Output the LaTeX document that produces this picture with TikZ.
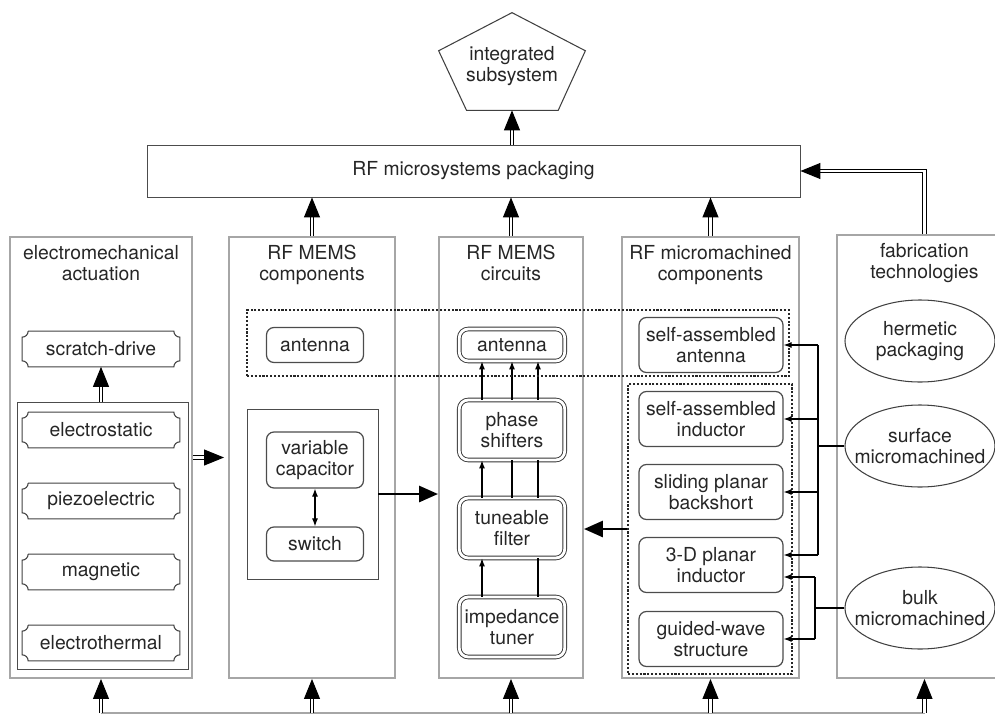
\documentclass[tikz,border=0pt]{standalone}
\usepackage{fontspec}
\setmainfont{TeX Gyre Heros}
\usetikzlibrary{arrows.meta,positioning,calc,fit,shapes.geometric}
\tikzset{
  column/.style={draw=gray!70, line width=1.1pt, inner sep=0pt},
  coltitle/.style={align=center, anchor=north, inner sep=0pt, text=black!85},
  framebox/.style={draw=black!70, line width=0.5pt, inner sep=0pt, align=center},
  groupbox/.style={draw=black!85, line width=0.6pt, dash pattern=on 1.2pt off 1pt, inner sep=0pt},
  actbox/.style={minimum width=31.4mm, minimum height=7mm, inner sep=0pt, text=black!85},
  compbox/.style={draw=black!70, rounded corners=1.5mm, line width=0.7pt, minimum width=19.4mm, align=center, inner sep=1pt, text=black!85},
  circbox/.style={draw=black!80, double, double distance=1.6pt, line width=0.5pt, rounded corners=1.8mm, minimum width=21.1mm, align=center, inner sep=1pt, text=black!85},
  microbox/.style={draw=black!70, rounded corners=1.5mm, line width=0.7pt, minimum width=28.8mm, minimum height=11mm, align=center, inner sep=1pt, text=black!85},
  fabell/.style={ellipse, draw=black!75, line width=0.6pt, minimum width=30mm, minimum height=16.4mm, inner xsep=-9pt, inner ysep=0pt, align=center, text=black!85},
  dblarrow/.style={double, double distance=1.2pt, line width=0.6pt, -{Triangle[length=4mm, width=3.2mm]}},
  heavyarrow/.style={line width=1.6pt, -{Triangle[length=3.8mm, width=3.2mm]}},
  thinarrow/.style={line width=0.6pt, -{Latex[length=1.6mm, width=1.2mm]}},
  twoway/.style={line width=0.6pt, {Latex[length=1.6mm, width=1.2mm]}-{Latex[length=1.6mm, width=1.2mm]}},
  wire/.style={line width=0.6pt},
  notchline/.style={draw=black!75, line width=0.6pt}
}
\newcommand{\nr}{1.2mm}
\newcommand{\notchbox}[1]{%
  \draw[notchline] ($(#1.north west)+(\nr,0)$) -- ($(#1.north east)+(-\nr,0)$)
    arc[start angle=180, end angle=270, radius=\nr] -- ($(#1.south east)+(0,\nr)$)
    arc[start angle=90, end angle=180, radius=\nr] -- ($(#1.south west)+(\nr,0)$)
    arc[start angle=0, end angle=90, radius=\nr] -- ($(#1.north west)+(0,-\nr)$)
    arc[start angle=270, end angle=360, radius=\nr];}

\begin{document}
\begin{tikzpicture}[x=0.2mm, y=-0.2mm, font=\fontsize{11}{12}\selectfont]
  \useasboundingbox (0,0) rectangle (995,715);

  % top: subsystem and packaging
  \node[inner sep=0pt, fit={(439,13)(585,110)}] (integ) {};
  \node[align=center, inner sep=0pt, text=black!85] (integ-t) at (512,66) {integrated\\subsystem};
  \draw[notchline] (integ.north) -- ($(integ.north east)!0.39!(integ.south east)$)
    -- ($(integ.south west)!0.815!(integ.south east)$) -- ($(integ.south west)!0.19!(integ.south east)$)
    -- ($(integ.north west)!0.39!(integ.south west)$) -- cycle;
  \node[framebox, fit={(147,145)(800,197)}] (pack) {};
  \node[text=black!85] (pack-t) at (pack.center) {RF microsystems packaging};
  \draw[dblarrow] (pack.north -| integ.south) -- (integ.south);

  % columns
  \node[column, fit={(10,237)(192,678)}] (act) {};
  \node[column, fit={(229,237)(395,678)}] (comp) {};
  \node[column, fit={(439,237)(583,678)}] (circ) {};
  \node[column, fit={(622,237)(799,678)}] (micro) {};
  \node[column, fit={(837,235)(1012,678)}] (fab) {};
  \node[coltitle] (act-t) at ([yshift=-1.8mm]act.north) {electromechanical\\actuation};
  \node[coltitle] (comp-t) at ([yshift=-1.8mm]comp.north) {RF MEMS\\components};
  \node[coltitle] (circ-t) at ([yshift=-1.8mm]circ.north) {RF MEMS\\circuits};
  \node[coltitle] (micro-t) at ([yshift=-1.8mm]micro.north) {RF micromachined\\components};
  \node[coltitle] (fab-t) at ([yshift=-1.8mm]fab.north) {fabrication\\technologies};

  % actuation
  \node[framebox, fit={(17,402)(188,669)}] (actin) {};
  \node[actbox] (scr) at (101,349) {scratch-drive};
  \node[actbox] (estat) at (101,430) {electrostatic};
  \node[actbox] (piezo) at (101,501) {piezoelectric};
  \node[actbox] (magn) at (101,572) {magnetic};
  \node[actbox] (ethm) at (101,643) {electrothermal};
  \foreach \n in {scr,estat,piezo,magn,ethm} {\notchbox{\n}}
  \draw[dblarrow] (scr.south |- actin.north) -- (scr.south);
  \draw[dblarrow, shorten >=0.8mm] (act.east) -- (comp.west);

  % components
  \node[compbox, minimum height=7mm] (cant) at (315,345) {antenna};
  \node[framebox, fit={(247,409)(378,579)}] (compin) {};
  \node[compbox, minimum height=11.2mm] (vcap) at (315,460) {variable\\capacitor};
  \node[compbox, minimum height=6.8mm] (sw) at (315,544) {switch};
  \draw[twoway] (vcap) -- (sw);
  \draw[heavyarrow] (compin.east) -- (compin.east -| circ.west);

  % circuits
  \node[circbox, minimum height=6.4mm] (cant2) at (512,345) {antenna};
  \node[circbox, minimum height=12mm] (phase) at (512,430) {phase\\shifters};
  \node[circbox, minimum height=12mm] (filt) at (512,528) {tuneable\\filter};
  \node[circbox, minimum height=12mm] (imp) at (512,627) {impedance\\tuner};
  \foreach \dx in {-6mm,0mm,5.2mm}
    \draw[thinarrow] ([xshift=\dx]phase.north) -- ([xshift=\dx]cant2.south);
  \draw[thinarrow] ([xshift=-6mm]filt.north) -- ([xshift=-6mm]phase.south);
  \foreach \dx in {0mm,5.2mm}
    \draw[wire] ([xshift=\dx]filt.north) -- ([xshift=\dx]phase.south);
  \draw[thinarrow] ([xshift=-6mm]imp.north) -- ([xshift=-6mm]filt.south);
  \draw[wire] ([xshift=5.2mm]imp.north) -- ([xshift=5.2mm]filt.south);

  % micromachined
  \node[microbox] (sant) at (711,345) {self-assembled\\antenna};
  \node[microbox] (sind) at (711,419) {self-assembled\\inductor};
  \node[microbox] (slide) at (711,492) {sliding planar\\backshort};
  \node[microbox] (d3) at (711,565) {3-D planar\\inductor};
  \node[microbox] (guide) at (711,639) {guided-wave\\structure};
  \node[groupbox, fit={(247,310)(789,376)}] (antgrp) {};
  \node[groupbox, fit={(628,384)(792,674)}] (mdot) {};
  \draw[heavyarrow] (mdot.west) -- (mdot.west -| circ.east);

  % fabrication
  \node[fabell] (herm) at (920,341) {hermetic\\packaging};
  \node[fabell] (surf) at (920,446) {surface\\micromachined};
  \node[fabell] (bulk) at (920,608) {bulk\\micromachined};
  \coordinate (sbus) at (818,449);
  \coordinate (bbus) at (815,608);
  \coordinate (d3a) at ([yshift=2mm]d3.east);
  \coordinate (d3b) at ([yshift=-2.4mm]d3.east);
  \draw[wire] (surf.west) -- (surf.west -| sbus);
  \draw[wire] (sbus |- sant.east) -- (sbus |- d3a);
  \foreach \t in {sant.east, sind.east, slide.east, d3a}
    \draw[thinarrow] (sbus |- \t) -- (\t);
  \draw[wire] (bulk.west) -- (bulk.west -| bbus);
  \draw[wire] (bbus |- d3b) -- (bbus |- guide.east);
  \foreach \t in {d3b, guide.east}
    \draw[thinarrow] (bbus |- \t) -- (\t);

  % links to packaging
  \foreach \c in {comp, circ, micro}
    \draw[dblarrow] (\c.north) -- (\c.north |- pack.south);
  \draw[dblarrow] (fab.north) |- (pack.east);

  % bottom feed
  \coordinate (bus) at (0,713);
  \draw[gray!70, line width=0.8pt] (act.south |- bus) -- (fab.south |- bus);
  \foreach \c in {act, comp, circ, micro, fab}
    \draw[dblarrow] (\c.south |- bus) -- (\c.south);
\end{tikzpicture}
\end{document}
